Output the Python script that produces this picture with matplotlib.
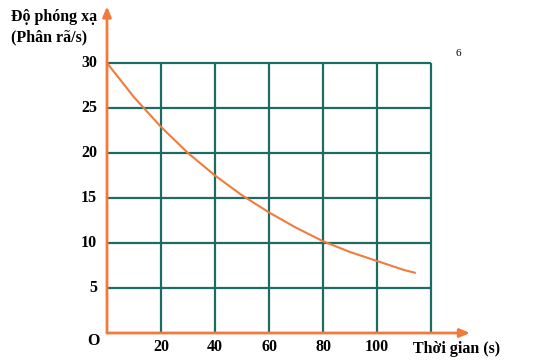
import matplotlib
matplotlib.use("Agg")
import matplotlib.pyplot as plt

# Data
t_vals = [0, 10, 20, 30, 40, 50, 60, 70, 80, 90, 100, 110, 114]
activity = [30, 26.2, 22.9, 20.0, 17.5, 15.3, 13.4, 11.7, 10.2, 9.0, 8.0, 7.0, 6.7]
x_ticks = [20, 40, 60, 80, 100]
y_ticks = [5, 10, 15, 20, 25, 30]
x_grid = [20, 40, 60, 80, 100, 120]

teal = "#1e6b66"
orange = "#f07b3c"
serif = ["Liberation Serif", "DejaVu Serif"]

fig = plt.figure(figsize=(5.35, 3.61), dpi=100)
ax = fig.add_axes([0, 0, 1, 1])
# pixel mapping: t=0 at px 107, 2.7 px/unit; v=0 at px 333, 9 px/unit
ax.set_xlim(-107 / 2.7, (535 - 107) / 2.7)
ax.set_ylim((333 - 361) / 9, 333 / 9)
ax.axis("off")

# grid
for x in x_grid:
    ax.plot([x, x], [0, 30], color=teal, lw=1.6, solid_capstyle="butt", zorder=1)
for y in y_ticks:
    ax.plot([0, 120], [y, y], color=teal, lw=1.6, solid_capstyle="butt", zorder=1)

# axes with arrows
ax.annotate("", xy=(0, 36.3), xytext=(0, 0),
            arrowprops=dict(arrowstyle="-|>,head_length=0.6,head_width=0.25",
                            color=orange, lw=2, shrinkA=0, shrinkB=0), zorder=3)
ax.annotate("", xy=(134.5, 0), xytext=(0, 0),
            arrowprops=dict(arrowstyle="-|>,head_length=0.6,head_width=0.25",
                            color=orange, lw=2, shrinkA=0, shrinkB=0), zorder=3)

# curve
ax.plot(t_vals, activity, color=orange, lw=1.5, zorder=2)

fs = 11.5
# tick labels
for y in y_ticks:
    ax.text(-3.7, y, str(y), ha="right", va="center", fontsize=fs,
            fontweight="bold", family=serif)
for x in x_ticks:
    ax.text(x, -1.6, str(x), ha="center", va="center", fontsize=fs,
            fontweight="bold", family=serif)
ax.text(-5.2, -0.85, "O", ha="center", va="center", fontsize=fs,
        fontweight="bold", family=serif)
ax.text(129.5, -1.75, "Thời gian (s)", ha="center", va="center", fontsize=fs,
        fontweight="bold", family=serif)
ax.text(-35.5, 35.1, "Độ phóng xạ", ha="left", va="center", fontsize=fs,
        fontweight="bold", family=serif)
ax.text(-35.5, 32.9, "(Phân rã/s)", ha="left", va="center", fontsize=fs,
        fontweight="bold", family=serif)
ax.text(130.3, 31.0, "6", ha="center", va="center", fontsize=8, family=serif)

fig.savefig("out.png", dpi=100)
